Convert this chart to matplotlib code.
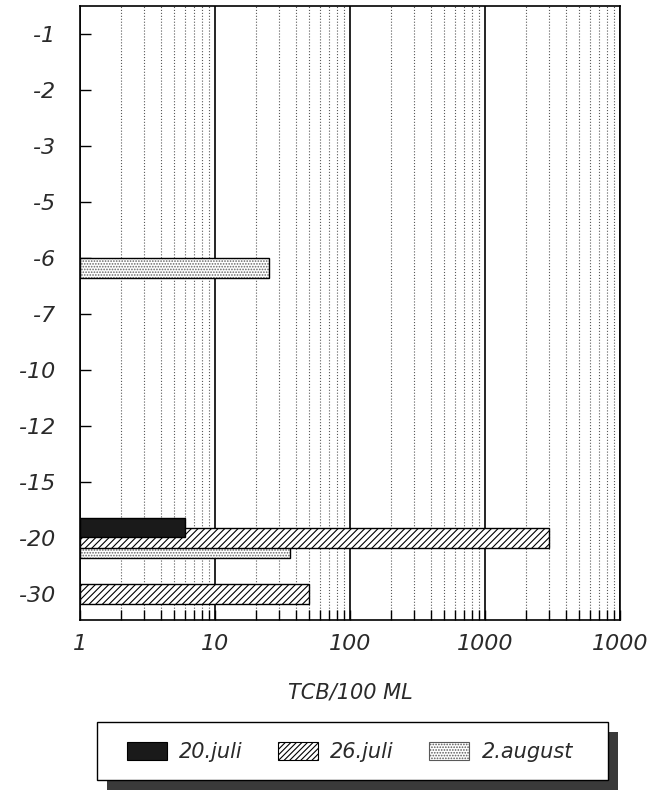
import matplotlib
matplotlib.use("Agg")
import matplotlib.pyplot as plt
from matplotlib.patches import Rectangle, Patch
from matplotlib.ticker import FixedLocator, LogLocator, NullFormatter

# depth categories (top to bottom)
depths = ["-1", "-2", "-3", "-5", "-6", "-7", "-10", "-12", "-15", "-20", "-30"]

# TCB/100 ML per sampling date
juli20 = {"-20": 6}
juli26 = {"-20": 3000, "-30": 50}
august2 = {"-6": 25, "-20": 36}

x_ticks = [1, 10, 100, 1000, 10000]
x_tick_labels = ["1", "10", "100", "1000", "1000"]

plt.rcParams["hatch.linewidth"] = 0.8
TXT = dict(color="#2a2a2a", style="oblique")

fig = plt.figure(figsize=(6.47, 7.92), dpi=100)
ax = fig.add_axes([80 / 647, 1 - 620 / 792, 540 / 647, 614 / 792])
ax.set_xscale("log")

pos = {d: i for i, d in enumerate(depths)}


def bars(data, offset, height, **kw):
    ys = [pos[d] + offset for d in data]
    vals = list(data.values())
    return ax.barh(ys, [v - 1 for v in vals], left=1, height=height, **kw)


# 2.august: gray dots + black outline
bars(august2, 0.18, 0.36, color="white", edgecolor="0.4", hatch="......",
     linewidth=0, zorder=2)
bars(august2, 0.18, 0.36, fill=False, edgecolor="black", linewidth=1.0, zorder=2.1)
# 26.juli: diagonal hatching
bars(juli26, 0.0, 0.36, color="white", edgecolor="black", hatch="/////",
     linewidth=1.0, zorder=3)
# 20.juli: solid dark
bars(juli20, -0.18, 0.35, color="#1a1a1a", edgecolor="black", linewidth=1.0, zorder=4)

ax.set_xlim(1, 10000)
ax.set_ylim(10.47, -0.5)

ax.xaxis.set_major_locator(FixedLocator(x_ticks))
ax.set_xticklabels(x_tick_labels, fontsize=16, **TXT)
ax.xaxis.set_minor_locator(LogLocator(base=10, subs=range(2, 10)))
ax.xaxis.set_minor_formatter(NullFormatter())
ax.tick_params(axis="x", which="both", direction="in", length=7.5, width=1.0,
               top=False, pad=10)

ax.set_yticks(range(len(depths)))
ax.set_yticklabels(depths, fontsize=16, **TXT)
ax.tick_params(axis="y", which="both", direction="in", length=8, width=1.0,
               right=False, pad=18)

ax.set_axisbelow(True)
ax.grid(which="minor", axis="x", linestyle=":", color="0.35", linewidth=0.8)
ax.grid(which="major", axis="x", linestyle="-", color="black", linewidth=1.2)
for s in ax.spines.values():
    s.set_linewidth(1.2)

fig.text(350 / 647, 1 - 693 / 792, "TCB/100 ML", ha="center", va="center",
         fontsize=15, **TXT)

# legend box with shadow
fig.add_artist(Rectangle((107 / 647, 1 - 790 / 792), 511 / 647, 58 / 792,
                         transform=fig.transFigure, facecolor="#3a3a3a",
                         edgecolor="none", zorder=1))
fig.add_artist(Rectangle((97 / 647, 1 - 780 / 792), 511 / 647, 58 / 792,
                         transform=fig.transFigure, facecolor="white",
                         edgecolor="black", linewidth=1.0, zorder=2))
handles = [
    Patch(facecolor="#1a1a1a", edgecolor="black", linewidth=0.8),
    Patch(facecolor="white", edgecolor="black", hatch="//////", linewidth=0.8),
    Patch(facecolor="white", edgecolor="0.35", hatch="......", linewidth=0.8),
]
leg = fig.legend(handles, ["20.juli", "26.juli", "2.august"], ncol=3,
                 loc="center", bbox_to_anchor=(350 / 647, 1 - 752 / 792),
                 frameon=False, fontsize=15, handlelength=1.9, handleheight=1.0,
                 handletextpad=0.6, columnspacing=1.7)
for t in leg.get_texts():
    t.set_color("#2a2a2a")
    t.set_fontstyle("oblique")
leg.set_zorder(3)

fig.savefig("out.png", dpi=100)
